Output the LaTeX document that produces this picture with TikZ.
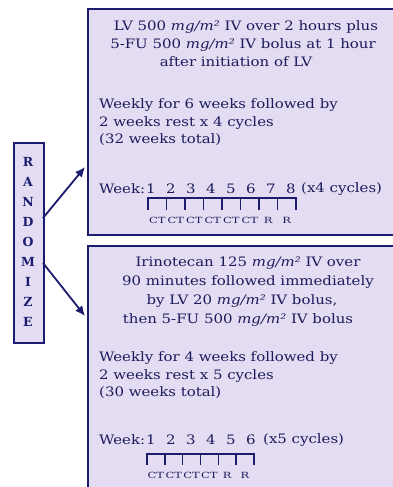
\documentclass[tikz,border=0pt]{standalone}
\usepackage{fontspec}
\setmainfont{DejaVu Serif}
\usetikzlibrary{arrows.meta}
\definecolor{navy}{RGB}{28,28,110}
\definecolor{ink}{RGB}{28,28,92}
\definecolor{lav}{RGB}{228,220,242}
\newcommand\sx[1]{\scalebox{1.15}[1]{#1}}
\newcommand\mgm{\textit{mg/m²}}
\begin{document}
\begin{tikzpicture}[x=1pt,y=-1pt,
  panel/.style={draw=navy, line width=2.2pt, fill=lav, inner sep=0pt, anchor=north west},
  txt/.style={text=ink, font=\fontsize{13}{15}\selectfont, inner sep=0pt},
  ctr/.style={txt, anchor=center},
  lft/.style={txt, anchor=west},
  num/.style={txt, anchor=center},
  lab/.style={text=ink, font=\fontsize{8.5}{9}\selectfont, inner sep=0pt, anchor=center},
  letter/.style={text=navy, font=\bfseries\fontsize{12.5}{13}\selectfont, inner sep=0pt, anchor=center},
  brk/.style={draw=navy, line width=1.4pt},
  arr/.style={draw=navy, line width=1.8pt, -{Latex[length=10pt,width=9pt]}}
]
\useasboundingbox (0,0) rectangle (393,487);
\clip (0,0) rectangle (393,487);
\fill[white] (0,0) rectangle (393,487);

% panels
\node[panel, minimum width=330pt, minimum height=226pt] (top) at (87,8) {};
\node[panel, minimum width=330pt, minimum height=260pt] (bot) at (87,245) {};
\node[draw=navy, line width=1.8pt, fill=lav, minimum width=30pt, minimum height=200pt, inner sep=0pt, anchor=north west] (rnd) at (13,142) {};

% randomize letters
\foreach \ch [count=\k from 0] in {R,A,N,D,O,M,I,Z,E}
  \node[letter] (r\k) at (28,162+20*\k) {\ch};

% arrows
\coordinate (s1) at (43,218);
\coordinate (e1) at (85,167);
\coordinate (s2) at (43,263);
\coordinate (e2) at (85,316);
\draw[arr] (s1) -- (e1);
\draw[arr] (s2) -- (e2);

% top panel text
\node[ctr] (t1) at (246,27) {\sx{LV 500 \mgm{} IV over 2 hours plus}};
\node[ctr] (t2) at (243,45) {\sx{5-FU 500 \mgm{} IV bolus at 1 hour}};
\node[ctr] (t3) at (236,62) {\sx{after initiation of LV}};
\node[lft] (t4) at (99,105) {\sx{Weekly for 6 weeks followed by}};
\node[lft] (t5) at (99,123) {\sx{2 weeks rest x 4 cycles}};
\node[lft] (t6) at (99,140) {\sx{(32 weeks total)}};
\node[lft] (t7) at (99,189) {\sx{Week:}};
\foreach \n [count=\k from 0] in {1,...,8}
  \node[num] (tn\n) at (151+20*\k,189) {\sx{\n}};
\node[lft] (t8) at (301,189) {\sx{(x4 cycles)}};
% bracket
\draw[brk] (148,210) -- (148,198) -- (296,198) -- (296,210);
\foreach \k in {1,...,7}
  \draw[brk] (148+18.5*\k,198) -- (148+18.5*\k,210);
\foreach \l [count=\k from 0] in {CT,CT,CT,CT,CT,CT,R,R}
  \node[lab] (tl\k) at (157.25+18.5*\k,220) {\scalebox{1.35}[1]{\l}};

% bottom panel text
\node[ctr] (b1) at (248,263) {\sx{Irinotecan 125 \mgm{} IV over}};
\node[ctr] (b2) at (248,282) {\sx{90 minutes followed immediately}};
\node[ctr] (b3) at (242,301) {\sx{by LV 20 \mgm{} IV bolus,}};
\node[ctr] (b4) at (238,320) {\sx{then 5-FU 500 \mgm{} IV bolus}};
\node[lft] (b5) at (99,358) {\sx{Weekly for 4 weeks followed by}};
\node[lft] (b6) at (99,376) {\sx{2 weeks rest x 5 cycles}};
\node[lft] (b7) at (99,393) {\sx{(30 weeks total)}};
\node[lft] (b8) at (99,440) {\sx{Week:}};
\foreach \n [count=\k from 0] in {1,...,6}
  \node[num] (bn\n) at (151+20*\k,440) {\sx{\n}};
\node[lft] (b9) at (263,440) {\sx{(x5 cycles)}};
\draw[brk] (147,465) -- (147,454) -- (254,454) -- (254,465);
\foreach \k in {1,...,5}
  \draw[brk] (147+17.83*\k,454) -- (147+17.83*\k,465);
\foreach \l [count=\k from 0] in {CT,CT,CT,CT,R,R}
  \node[lab] (bl\k) at (155.9+17.83*\k,475) {\scalebox{1.35}[1]{\l}};
\end{tikzpicture}
\end{document}
